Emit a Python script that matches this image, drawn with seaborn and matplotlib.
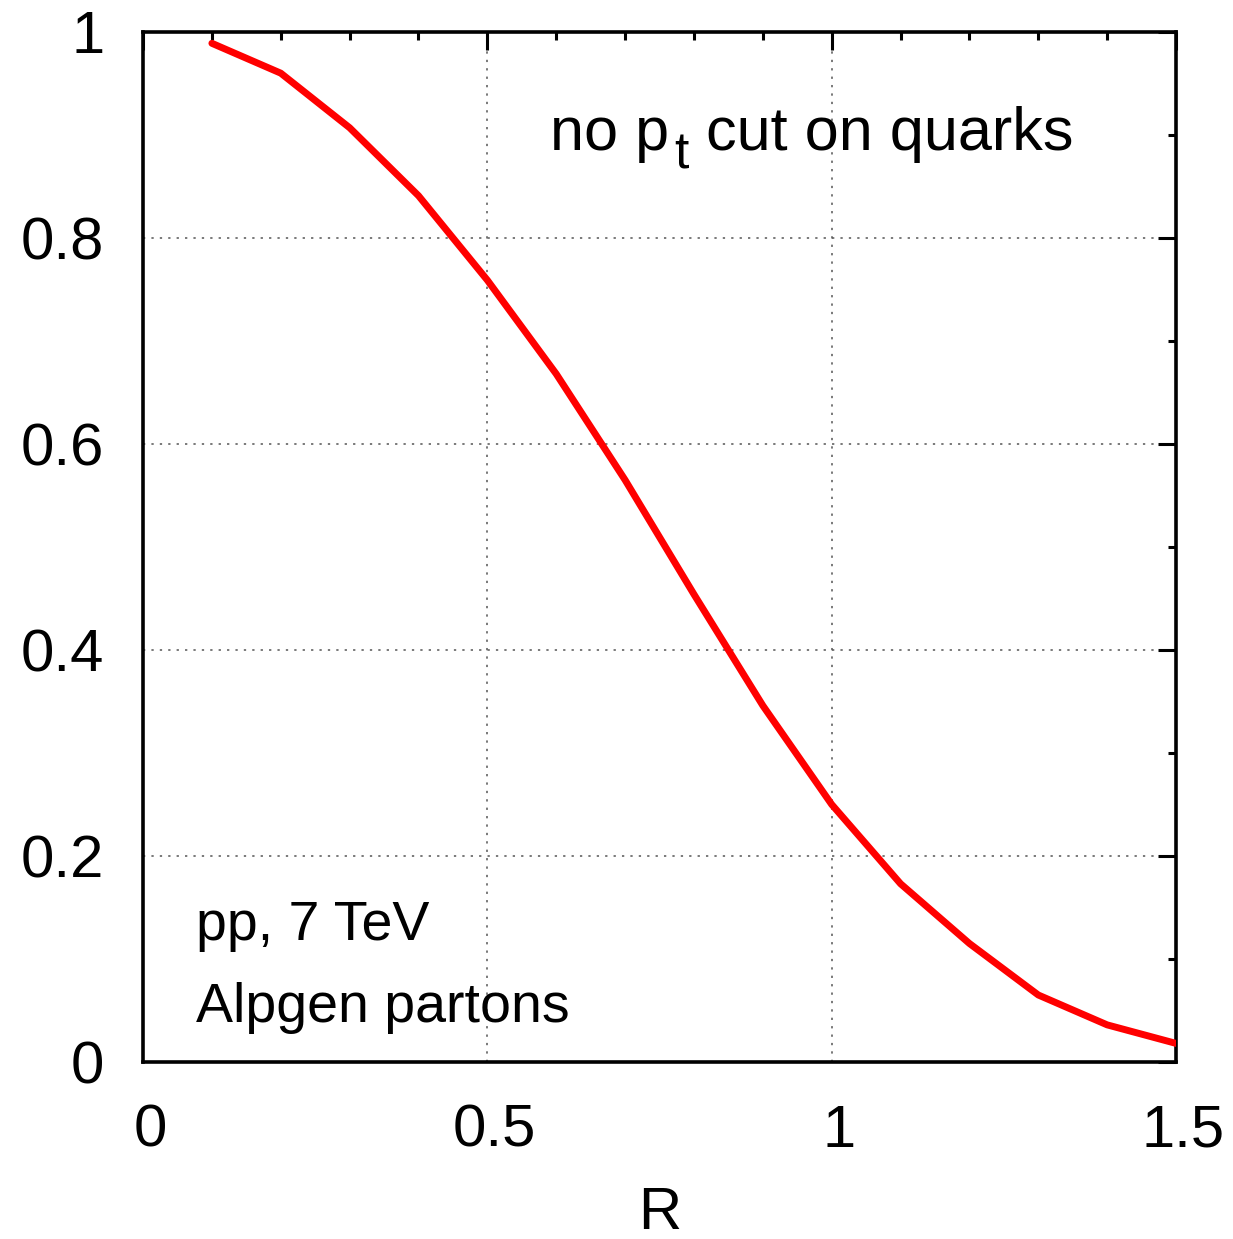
import matplotlib
matplotlib.use("Agg")
import matplotlib.pyplot as plt
from matplotlib.ticker import MultipleLocator
from matplotlib.transforms import offset_copy, ScaledTranslation
import pandas as pd
import seaborn as sns

# Fraction vs. jet radius R (pp, 7 TeV, Alpgen partons)
r_values = [0.1, 0.2, 0.3, 0.4, 0.5, 0.6, 0.7, 0.8, 0.9, 1.0, 1.1, 1.2, 1.3, 1.4, 1.5]
fraction = [0.989, 0.960, 0.907, 0.841, 0.759, 0.668, 0.565, 0.454, 0.346, 0.250,
            0.173, 0.115, 0.065, 0.036, 0.018]

x_ticks = [0, 0.5, 1, 1.5]
x_tick_labels = ["0", "0.5", "1", "1.5"]
y_ticks = [0, 0.2, 0.4, 0.6, 0.8, 1.0]
y_tick_labels = ["0", "0.2", "0.4", "0.6", "0.8", "1"]

sns.set_theme(style="white")
plt.rcParams["font.family"] = ["Liberation Sans", "DejaVu Sans"]
for key in ["text.color", "axes.labelcolor", "xtick.color", "ytick.color"]:
    plt.rcParams[key] = "black"

TICK_FS = 43
TEXT_FS = 40
TITLE_FS = 44

df = pd.DataFrame({"R": r_values, "frac": fraction})

fig = plt.figure(figsize=(12.33, 12.39), dpi=100)
ax = fig.add_axes([0.116, 0.1429, 0.8378, 0.8313])

sns.lineplot(data=df, x="R", y="frac", ax=ax, color="#ff0000", linewidth=5,
             zorder=3)

ax.set_xlim(0, 1.5)
ax.set_ylim(0, 1)
ax.set_xticks(x_ticks)
ax.set_xticklabels(x_tick_labels)
ax.set_yticks(y_ticks)
ax.set_yticklabels(y_tick_labels)
ax.xaxis.set_minor_locator(MultipleLocator(0.1))
ax.yaxis.set_minor_locator(MultipleLocator(0.1))

ax.tick_params(which="both", direction="in", top=True, right=True,
               color="black", width=2.2)
ax.tick_params(which="major", length=13, labelsize=TICK_FS)
ax.tick_params(which="minor", length=6)
ax.tick_params(axis="x", which="major", pad=30)
ax.tick_params(axis="y", which="major", pad=28)

# nudge the x tick labels slightly to the right of their ticks
shift = ScaledTranslation(7 / fig.dpi, 0, fig.dpi_scale_trans)
for lbl in ax.get_xticklabels():
    lbl.set_transform(lbl.get_transform() + shift)

ax.grid(True, which="major", color="#555555", linestyle=(0, (1.5, 4)),
        linewidth=1.1)
ax.set_axisbelow(True)

for s in ax.spines.values():
    s.set_color("black")
    s.set_linewidth(2.6)

ax.set_xlabel("R", fontsize=TICK_FS, labelpad=20)
ax.set_ylabel("")

# "no p_t cut on quarks" built from pieces so the subscript sits low and large
renderer = fig.canvas.get_renderer()
tx, ty = 0.394, 0.8854
t1 = ax.text(tx, ty, "no p", transform=ax.transAxes,
             fontsize=TITLE_FS, ha="left", va="baseline")
w1 = t1.get_window_extent(renderer).width * 72 / fig.dpi
tr_sub = offset_copy(ax.transAxes, fig=fig, x=w1 + 4, y=-13, units="points")
t2 = ax.text(tx, ty, "t", transform=tr_sub,
             fontsize=TITLE_FS * 0.85, ha="left", va="baseline")
w2 = t2.get_window_extent(renderer).width * 72 / fig.dpi
tr_rest = offset_copy(ax.transAxes, fig=fig, x=w1 + w2 + 4, y=0, units="points")
ax.text(tx, ty, " cut on quarks", transform=tr_rest,
        fontsize=TITLE_FS, ha="left", va="baseline")

ax.text(0.051, 0.118, "pp, 7 TeV", transform=ax.transAxes,
        fontsize=TEXT_FS, ha="left", va="baseline")
ax.text(0.051, 0.039, "Alpgen partons", transform=ax.transAxes,
        fontsize=TEXT_FS, ha="left", va="baseline")

fig.savefig("out.png", dpi=100, facecolor="white")
